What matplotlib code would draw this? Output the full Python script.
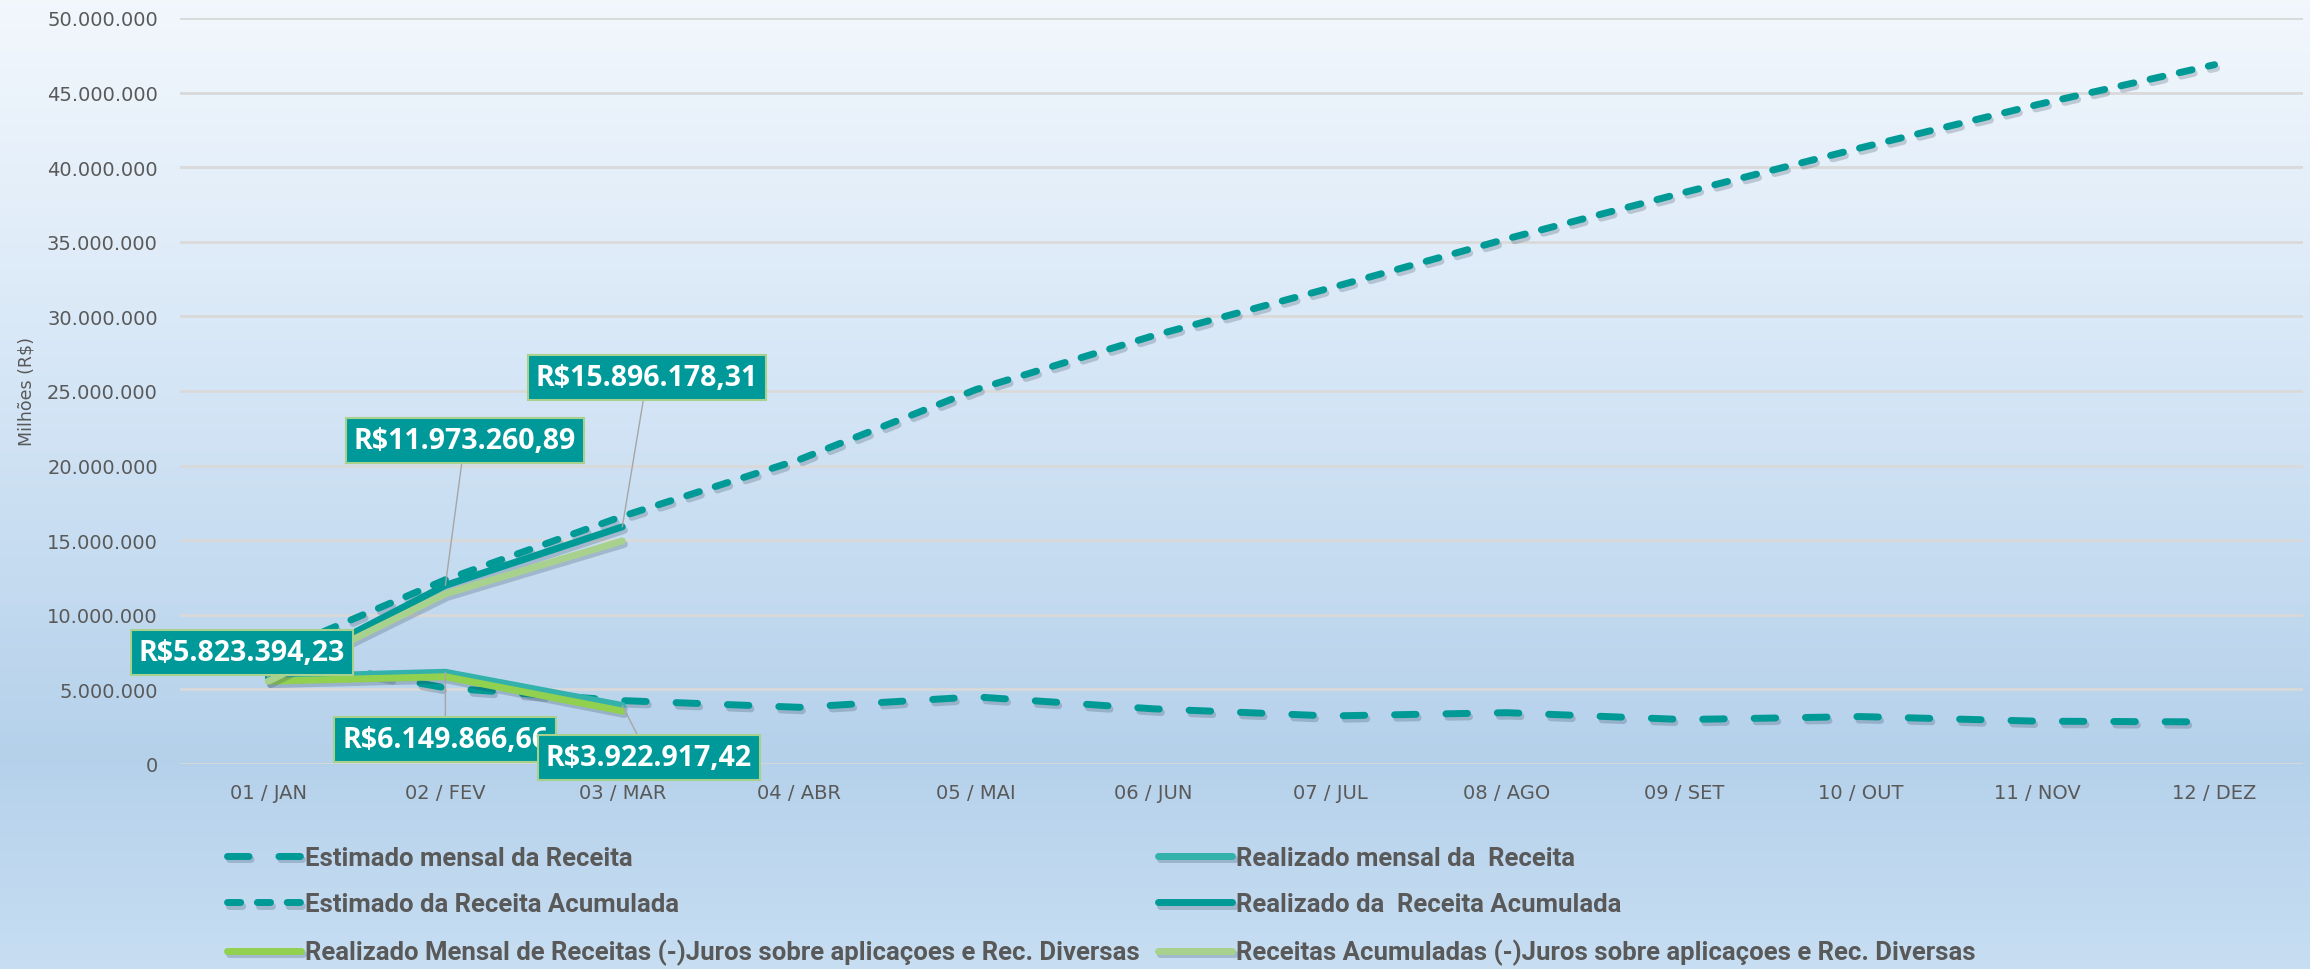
import matplotlib
matplotlib.use("Agg")
import matplotlib.pyplot as plt
import matplotlib.patheffects as pe
import numpy as np

months = ["01 / JAN", "02 / FEV", "03 / MAR", "04 / ABR", "05 / MAI", "06 / JUN",
          "07 / JUL", "08 / AGO", "09 / SET", "10 / OUT", "11 / NOV", "12 / DEZ"]

estimado_mensal = [7300000, 5100000, 4250000, 3800000, 4500000, 3700000,
                   3220000, 3440000, 2980000, 3180000, 2870000, 2820000]
estimado_acumulado = [7300000, 12350000, 16600000, 20400000, 25100000, 28700000,
                      31900000, 35200000, 38300000, 41300000, 44200000, 46870000]
realizado_mensal = [5823394.23, 6149866.66, 3922917.42]
realizado_acumulado = [5823394.23, 11973260.89, 15896178.31]
liquido_mensal = [5550000, 5850000, 3550000]
liquido_acumulado = [5550000, 11400000, 14950000]

labels = [
    "Estimado mensal da Receita",
    "Estimado da Receita Acumulada",
    "Realizado Mensal de Receitas (-)Juros sobre aplicaçoes e Rec. Diversas",
    "Realizado mensal da  Receita",
    "Realizado da  Receita Acumulada",
    "Receitas Acumuladas (-)Juros sobre aplicaçoes e Rec. Diversas",
]

TEXT = "#595959"
TEAL = "#009A96"
TEAL_LIGHT = "#33B1AB"
GREEN = "#92D050"
GREEN_LIGHT = "#A9D18E"


def brl(value):
    text = f"{value:,.2f}".replace(",", "X").replace(".", ",").replace("X", ".")
    return "R$" + text


def shadow():
    return [pe.SimpleLineShadow(offset=(1.5, -2.5), shadow_color="#1F3A50", alpha=0.22), pe.Normal()]


fig = plt.figure(figsize=(23.1, 9.7), dpi=100)

# background gradient
bg = fig.add_axes([0, 0, 1, 1])
stops = np.array([0.0, 0.35, 0.78, 1.0])
cols = np.array([[0.95, 0.97, 0.99], [0.85, 0.91, 0.97], [0.71, 0.82, 0.92], [0.78, 0.87, 0.95]])
t = np.linspace(0, 1, 400)
grad = np.stack([np.interp(t, stops, cols[:, k]) for k in range(3)], axis=-1)[:, None, :]
bg.imshow(grad, aspect="auto", extent=(0, 1, 0, 1), origin="upper")
bg.set_axis_off()

ax = fig.add_axes([180 / 2310, 1 - 765 / 970, 2123 / 2310, 746 / 970])
ax.set_facecolor("none")
x = np.arange(len(months))
xr = np.arange(len(realizado_mensal))

l_est_m, = ax.plot(x, estimado_mensal, color=TEAL, lw=5, dashes=(3.1, 4.3),
                   dash_capstyle="round", path_effects=shadow())
l_est_a, = ax.plot(x, estimado_acumulado, color=TEAL, lw=5, dashes=(1.9, 2.4),
                   dash_capstyle="round", path_effects=shadow())
l_real_m, = ax.plot(xr, realizado_mensal, color=TEAL_LIGHT, lw=5,
                    solid_capstyle="round", path_effects=shadow())
l_real_a, = ax.plot(xr, realizado_acumulado, color=TEAL, lw=5,
                    solid_capstyle="round", path_effects=shadow())
l_liq_m, = ax.plot(xr, liquido_mensal, color=GREEN, lw=5,
                   solid_capstyle="round", path_effects=shadow())
l_liq_a, = ax.plot(xr, liquido_acumulado, color=GREEN_LIGHT, lw=5,
                   solid_capstyle="round", path_effects=shadow())

ax.set_xlim(-0.5, len(months) - 0.5)
ax.set_ylim(0, 50000000)
ax.set_yticks(np.arange(0, 50000001, 5000000))
ax.set_yticklabels([f"{v:,}".replace(",", ".") for v in range(0, 50000001, 5000000)])
ax.set_xticks(x)
ax.set_xticklabels(months)
ax.tick_params(axis="both", length=0, labelsize=14, labelcolor=TEXT)
ax.tick_params(axis="x", pad=14)
ax.tick_params(axis="y", pad=16)
ax.grid(axis="y", color="#D9D9D9", lw=2)
ax.set_axisbelow(True)
for spine in ax.spines.values():
    spine.set_visible(False)
ax.set_ylabel("Milhões (R$)", color=TEXT, fontsize=12.5)
ax.yaxis.set_label_coords(-0.068, 0.5)

# data labels: (series, index, box centre x, box centre y)
callouts = [
    (realizado_mensal, 0, -0.15, 7500000),
    (realizado_acumulado, 1, 1.11, 21700000),
    (realizado_acumulado, 2, 2.14, 25900000),
    (realizado_mensal, 1, 1.0, 1650000),
    (realizado_mensal, 2, 2.15, 450000),
]
for series, i, bx, by in callouts:
    ax.annotate(brl(series[i]), xy=(i, series[i]), xytext=(bx, by),
                ha="center", va="center", color="white", fontsize=20.5,
                fontweight="bold", family=["Open Sans", "DejaVu Sans"],
                bbox=dict(boxstyle="square,pad=0.28", fc="#009999", ec=GREEN_LIGHT, lw=1.5),
                arrowprops=dict(arrowstyle="-", color="#A6A6A6", lw=1, shrinkA=0, shrinkB=0),
                annotation_clip=False, zorder=5)

handles = [l_est_m, l_est_a, l_liq_m, l_real_m, l_real_a, l_liq_a]
leg = ax.legend(handles, labels, ncol=2, loc="upper left",
                bbox_to_anchor=(214 / 2310, 1 - 834 / 970), bbox_transform=fig.transFigure,
                frameon=False, borderpad=0, handlelength=2.9, handletextpad=0.15,
                labelspacing=0.88, columnspacing=0.7,
                prop=dict(family=["Roboto", "DejaVu Sans"], weight="bold", size=18.5))
for text in leg.get_texts():
    text.set_color(TEXT)

fig.savefig("out.png", dpi=100)
